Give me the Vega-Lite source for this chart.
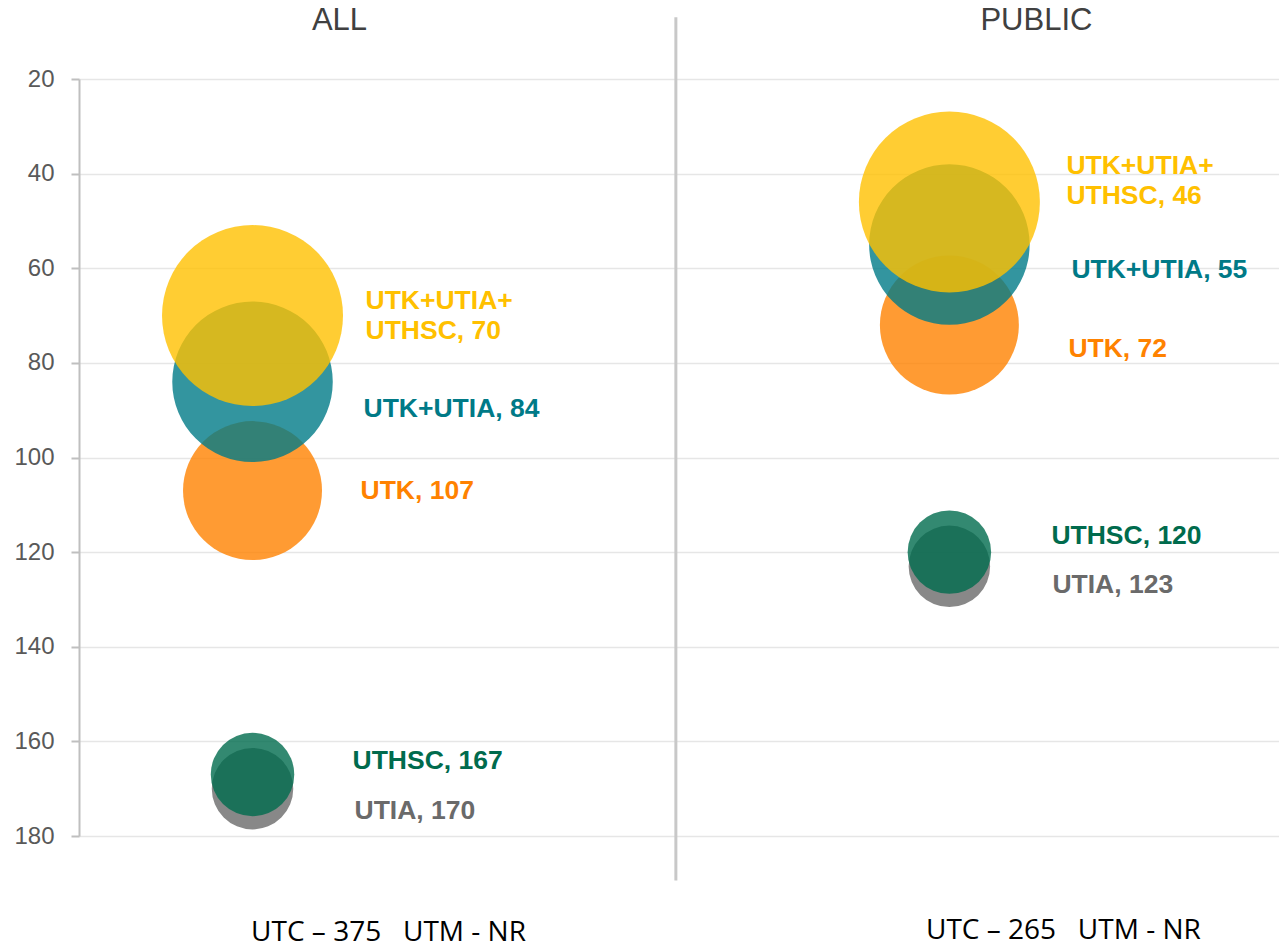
{
  "$schema": "https://vega.github.io/schema/vega-lite/v6.json",
  "autosize": {"type": "none"},
  "width": 1200,
  "height": 757,
  "padding": {"left": 79, "top": 79, "right": 0, "bottom": 112},
  "background": "white",
  "config": {"view": {"stroke": null}},
  "layer": [
    {
      "data": {"values": [
        {"panel": "ALL", "pos": 1, "series": "UTIA", "value": 170, "label": "UTIA, 170"},
        {"panel": "ALL", "pos": 1, "series": "UTHSC", "value": 167, "label": "UTHSC, 167"},
        {"panel": "ALL", "pos": 1, "series": "UTK", "value": 107, "label": "UTK, 107"},
        {"panel": "ALL", "pos": 1, "series": "UTK+UTIA", "value": 84, "label": "UTK+UTIA, 84"},
        {"panel": "ALL", "pos": 1, "series": "UTK+UTIA+UTHSC", "value": 70, "label": "UTK+UTIA+\nUTHSC, 70"},
        {"panel": "PUBLIC", "pos": 2, "series": "UTIA", "value": 123, "label": "UTIA, 123"},
        {"panel": "PUBLIC", "pos": 2, "series": "UTHSC", "value": 120, "label": "UTHSC, 120"},
        {"panel": "PUBLIC", "pos": 2, "series": "UTK", "value": 72, "label": "UTK, 72"},
        {"panel": "PUBLIC", "pos": 2, "series": "UTK+UTIA", "value": 55, "label": "UTK+UTIA, 55"},
        {"panel": "PUBLIC", "pos": 2, "series": "UTK+UTIA+UTHSC", "value": 46, "label": "UTK+UTIA+\nUTHSC, 46"}
      ]},
      "encoding": {
        "x": {"field": "pos", "type": "quantitative", "scale": {"domain": [0.751, 2.473], "nice": false, "zero": false}, "axis": null},
        "y": {"field": "value", "type": "quantitative", "scale": {"domain": [20, 180], "reverse": true, "nice": false, "zero": false},
          "axis": {"values": [20, 40, 60, 80, 100, 120, 140, 160, 180], "title": null, "labelFont": "Liberation Sans", "labelFontSize": 24, "labelColor": "#595959", "labelPadding": 17, "tickSize": 8, "tickColor": "#BFBFBF", "tickWidth": 2, "domainColor": "#BFBFBF", "domainWidth": 2, "grid": true, "gridColor": "#E6E6E6", "gridWidth": 1.5}},
        "color": {"field": "series", "type": "nominal", "legend": null,
          "scale": {"domain": ["UTIA", "UTHSC", "UTK", "UTK+UTIA", "UTK+UTIA+UTHSC"], "range": ["#6A6A6A", "#006B4D", "#FF8200", "#007A87", "#FFC000"]}},
        "text": {"field": "label", "type": "nominal"}
      },
      "layer": [
        {
          "mark": {"type": "point", "shape": "circle", "filled": true, "opacity": 0.8, "strokeWidth": 0},
          "encoding": {
            "size": {"field": "series", "type": "nominal", "legend": null,
              "scale": {"type": "ordinal", "domain": ["UTIA", "UTHSC", "UTK", "UTK+UTIA", "UTK+UTIA+UTHSC"], "range": [6642, 6972, 19321, 25760, 32761]}}
          }
        },
        {"transform": [{"filter": "datum.panel == 'ALL' && datum.series == 'UTK+UTIA+UTHSC'"}],
         "mark": {"type": "text", "align": "left", "baseline": "middle", "font": "Liberation Sans", "fontWeight": "bold", "fontSize": 26.5, "lineBreak": "\n", "lineHeight": 30, "dx": 113, "dy": -15}},
        {"transform": [{"filter": "datum.panel == 'ALL' && datum.series == 'UTK+UTIA'"}],
         "mark": {"type": "text", "align": "left", "baseline": "middle", "font": "Liberation Sans", "fontWeight": "bold", "fontSize": 26.5, "dx": 111, "dy": 27}},
        {"transform": [{"filter": "datum.panel == 'ALL' && datum.series == 'UTK'"}],
         "mark": {"type": "text", "align": "left", "baseline": "middle", "font": "Liberation Sans", "fontWeight": "bold", "fontSize": 26.5, "dx": 108, "dy": 0}},
        {"transform": [{"filter": "datum.panel == 'ALL' && datum.series == 'UTHSC'"}],
         "mark": {"type": "text", "align": "left", "baseline": "middle", "font": "Liberation Sans", "fontWeight": "bold", "fontSize": 26.5, "dx": 100, "dy": -13}},
        {"transform": [{"filter": "datum.panel == 'ALL' && datum.series == 'UTIA'"}],
         "mark": {"type": "text", "align": "left", "baseline": "middle", "font": "Liberation Sans", "fontWeight": "bold", "fontSize": 26.5, "dx": 102, "dy": 22}},
        {"transform": [{"filter": "datum.panel == 'PUBLIC' && datum.series == 'UTK+UTIA+UTHSC'"}],
         "mark": {"type": "text", "align": "left", "baseline": "middle", "font": "Liberation Sans", "fontWeight": "bold", "fontSize": 26.5, "lineBreak": "\n", "lineHeight": 30, "dx": 117, "dy": -36}},
        {"transform": [{"filter": "datum.panel == 'PUBLIC' && datum.series == 'UTK+UTIA'"}],
         "mark": {"type": "text", "align": "left", "baseline": "middle", "font": "Liberation Sans", "fontWeight": "bold", "fontSize": 26.5, "dx": 122, "dy": 25}},
        {"transform": [{"filter": "datum.panel == 'PUBLIC' && datum.series == 'UTK'"}],
         "mark": {"type": "text", "align": "left", "baseline": "middle", "font": "Liberation Sans", "fontWeight": "bold", "fontSize": 26.5, "dx": 119, "dy": 24}},
        {"transform": [{"filter": "datum.panel == 'PUBLIC' && datum.series == 'UTHSC'"}],
         "mark": {"type": "text", "align": "left", "baseline": "middle", "font": "Liberation Sans", "fontWeight": "bold", "fontSize": 26.5, "dx": 102, "dy": -16}},
        {"transform": [{"filter": "datum.panel == 'PUBLIC' && datum.series == 'UTIA'"}],
         "mark": {"type": "text", "align": "left", "baseline": "middle", "font": "Liberation Sans", "fontWeight": "bold", "fontSize": 26.5, "dx": 103, "dy": 19}}
      ]
    },
    {
      "data": {"values": [{"sep": 1.6075, "top": 6.93, "bottom": 189.4}]},
      "mark": {"type": "rule", "color": "#C8C8C8", "strokeWidth": 3},
      "encoding": {
        "x": {"field": "sep", "type": "quantitative"},
        "y": {"field": "top", "type": "quantitative"},
        "y2": {"field": "bottom"}
      }
    },
    {
      "data": {"values": [
        {"panel": "ALL", "pos": 1, "base": 20, "foot": "UTC – 375\u00a0\u00a0\u00a0UTM - NR", "footbase": 180},
        {"panel": "PUBLIC", "pos": 2, "base": 20, "foot": "UTC – 265\u00a0\u00a0\u00a0UTM - NR", "footbase": 180}
      ]},
      "layer": [
        {
          "mark": {"type": "text", "align": "center", "baseline": "middle", "font": "Liberation Sans", "fontSize": 31, "color": "#404040", "dx": 87, "dy": -58},
          "encoding": {
            "x": {"field": "pos", "type": "quantitative"},
            "y": {"field": "base", "type": "quantitative"},
            "text": {"field": "panel", "type": "nominal"}
          }
        },
        {
          "transform": [{"filter": "datum.panel == 'ALL'"}],
          "mark": {"type": "text", "align": "center", "baseline": "middle", "font": "Open Sans", "fontSize": 28, "color": "#000000", "dx": 136, "dy": 97},
          "encoding": {
            "x": {"field": "pos", "type": "quantitative"},
            "y": {"field": "footbase", "type": "quantitative"},
            "text": {"field": "foot", "type": "nominal"}
          }
        },
        {
          "transform": [{"filter": "datum.panel == 'PUBLIC'"}],
          "mark": {"type": "text", "align": "center", "baseline": "middle", "font": "Open Sans", "fontSize": 28, "color": "#000000", "dx": 114, "dy": 95},
          "encoding": {
            "x": {"field": "pos", "type": "quantitative"},
            "y": {"field": "footbase", "type": "quantitative"},
            "text": {"field": "foot", "type": "nominal"}
          }
        }
      ]
    }
  ]
}
